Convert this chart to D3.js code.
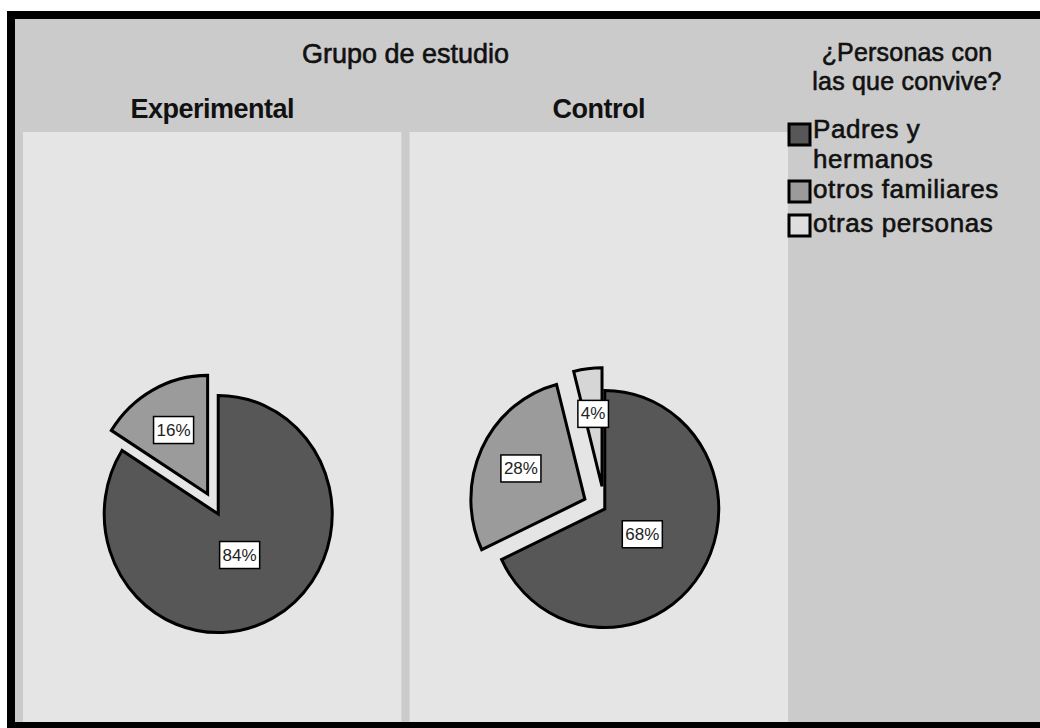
<!DOCTYPE html>
<html>
<head>
<meta charset="utf-8">
<script src="https://cdn.jsdelivr.net/npm/d3@7"></script>
<style>
  html, body { margin: 0; padding: 0; background: #ffffff; }
  svg { display: block; }
  text { font-family: "Liberation Sans", Arial, sans-serif; fill: #111; }
  text.heavy { stroke: #111; stroke-width: 0.6px; }
</style>
</head>
<body>
<svg id="chart" width="1040" height="728"></svg>
<script>
// ---- data ----
const panelTitle = "Grupo de estudio";
const groups = ["Experimental", "Control"];
const categories = ["Padres y hermanos", "otros familiares", "otras personas"];
const legendLines = [["Padres y", "hermanos"], ["otros familiares"], ["otras personas"]];
const legendTitle = ["¿Personas con", "las que convive?"];
const experimentalPct = [84, 16, 0];
const controlPct = [68, 28, 4];
const seriesByGroup = [experimentalPct, controlPct];
const sliceColors = ["#575757", "#9b9b9b", "#d6d6d6"];
const legendColors = ["#575757", "#9b9b9b", "#dedede"];

// ---- layout ----
const W = 1040, H = 728;
const svg = d3.select("#chart");

svg.append("rect").attr("x", 0).attr("y", 0).attr("width", W).attr("height", H).attr("fill", "#ffffff");
svg.append("rect").attr("x", 7).attr("y", 11).attr("width", W + 20).attr("height", H).attr("fill", "#000");
svg.append("rect").attr("x", 15).attr("y", 19).attr("width", W + 20).attr("height", 703).attr("fill", "#cbcbcb");

const panelTop = 132, panelBottom = 722;
const x = d3.scaleBand().domain(groups).range([23, 788]).paddingInner(0.021);

svg.selectAll("rect.panel").data(groups).join("rect")
  .attr("class", "panel")
  .attr("x", d => x(d)).attr("y", panelTop)
  .attr("width", x.bandwidth()).attr("height", panelBottom - panelTop)
  .attr("fill", "#e5e5e5");

// titles
svg.append("text").attr("class", "heavy")
  .attr("x", (x.range()[0] + x.range()[1]) / 2).attr("y", 63)
  .attr("text-anchor", "middle").style("font-size", "27px").text(panelTitle);
svg.selectAll("text.grp").data(groups).join("text")
  .attr("class", "grp")
  .attr("x", d => x(d) + x.bandwidth() / 2).attr("y", 118)
  .attr("text-anchor", "middle").style("font-size", "27px").style("font-weight", "bold")
  .style("letter-spacing", "-0.5px")
  .text(d => d);

// pies
const R = 114, yScale = 1.04, explode = 22;
const pie = d3.pie().sort(null).value(d => d.v);
const arc = d3.arc().innerRadius(0).outerRadius(R);
const yOffsets = [514, 509];

groups.forEach((g, gi) => {
  const data = seriesByGroup[gi].map((v, i) => ({ v, i })).filter(d => d.v > 0);
  const arcs = pie(data);
  const cx = x(g) + x.bandwidth() / 2 + 6, cy = yOffsets[gi];
  const gPie = svg.append("g").attr("transform", `translate(${cx},${cy}) scale(1,${yScale})`);
  const offset = d => {
    if (d.data.i === 0) return [0, 0];
    const a = (d.startAngle + d.endAngle) / 2;
    return [Math.sin(a) * explode, -Math.cos(a) * explode];
  };
  gPie.selectAll("path").data(arcs).join("path")
    .attr("d", arc)
    .attr("transform", d => `translate(${offset(d)[0]},${offset(d)[1]})`)
    .attr("fill", d => sliceColors[d.data.i])
    .attr("stroke", "#000").attr("stroke-width", 3).attr("stroke-linejoin", "miter");

  const gLab = svg.append("g");
  arcs.forEach(d => {
    const k = d.data.i === 0 ? 0.39 : 0.62;
    const a = (d.startAngle + d.endAngle) / 2;
    const o = offset(d);
    const lx = cx + o[0] + Math.sin(a) * R * k;
    const ly = cy + (o[1] - Math.cos(a) * R * k) * yScale;
    const t = gLab.append("text").attr("x", lx).attr("y", ly + 6)
      .attr("text-anchor", "middle").style("font-size", "17px").style("fill", "#222")
      .text(d.data.v + "%");
    const bb = t.node().getBBox();
    gLab.insert("rect", "text")
      .attr("x", bb.x - 3).attr("y", ly - 13).attr("width", bb.width + 6).attr("height", 27)
      .attr("fill", "#fff").attr("stroke", "#000").attr("stroke-width", 1.5);
  });
});

// legend
const lg = svg.append("g");
lg.selectAll("text.lt").data(legendTitle).join("text")
  .attr("class", "lt heavy").attr("x", 907).attr("y", (d, i) => 61 + i * 29)
  .attr("text-anchor", "middle").style("font-size", "25px").style("letter-spacing", "0.2px")
  .text(d => d);
const itemY = [121, 181, 215];
const items = lg.selectAll("g.item").data(categories).join("g").attr("class", "item");
items.append("rect")
  .attr("x", 789).attr("y", (d, i) => itemY[i] + (i === 0 ? 3 : 0))
  .attr("width", 21).attr("height", 21)
  .attr("fill", (d, i) => legendColors[i]).attr("stroke", "#000").attr("stroke-width", 3);
items.each(function (d, i) {
  d3.select(this).selectAll("text").data(legendLines[i]).join("text")
    .attr("class", "heavy")
    .attr("x", 813).attr("y", (t, j) => itemY[i] + 17 + j * 30)
    .style("font-size", "26px").style("letter-spacing", "0.6px").text(t => t);
});
</script>
</body>
</html>
